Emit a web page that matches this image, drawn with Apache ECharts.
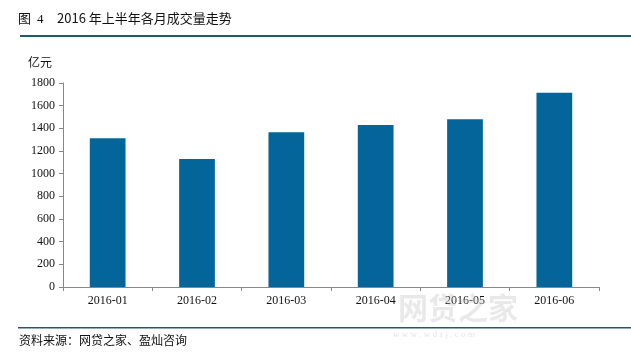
<!DOCTYPE html>
<html><head><meta charset="utf-8">
<script src="https://cdn.jsdelivr.net/npm/echarts@6/dist/echarts.min.js"></script>
<style>html,body{margin:0;padding:0;background:#fff}#c{width:631px;height:362px}</style>
</head><body><div id="c"></div>
<script>
var categories = ['2016-01','2016-02','2016-03','2016-04','2016-05','2016-06'];
var volumes = [1312, 1129, 1365, 1429, 1480, 1714];
var yTicks = [0,200,400,600,800,1000,1200,1400,1600,1800];

var chart = echarts.init(document.getElementById('c'));
var cjk = '"SimSun","Noto Sans CJK SC",sans-serif';
var serif = '"Liberation Serif","Times New Roman",serif';
chart.setOption({
  animation:false,
  grid:{left:63,right:32,top:83,bottom:75,containLabel:false},
  graphic:[
    {type:'text',left:18,top:12,style:{text:'图',font:'13px '+cjk,fill:'#111'}},
    {type:'text',left:37,top:13,style:{text:'4',font:'13px '+serif,fill:'#111'}},
    {type:'text',left:57,top:12,style:{text:'2016 年上半年各月成交量走势',font:'13px '+cjk,fill:'#111'}},
    {type:'rect',shape:{x:20,y:35,width:611,height:2},style:{fill:'#1e5c6b'}},
    {type:'text',left:28,top:56,style:{text:'亿元',font:'12px '+cjk,fill:'#111'}},
    {type:'rect',shape:{x:18,y:327,width:613,height:1.5},style:{fill:'#1e5c6b'}},
    {type:'text',left:19,top:334,style:{text:'资料来源：网贷之家、盈灿咨询',font:'12px '+cjk,fill:'#111'}},
    {type:'text',left:398,top:293,z:100,style:{text:'网贷之家',font:'bold 30px '+cjk,fill:'rgba(200,200,200,0.4)'}},
    {type:'text',left:393,top:330,z:100,style:{text:'w w w . w d z j . c o m',font:'9px '+serif,fill:'rgba(200,200,200,0.5)'}}
  ],
  xAxis:{type:'category',data:categories,
    axisLine:{lineStyle:{color:'#888',width:1}},
    axisTick:{show:true,alignWithLabel:false,length:4,lineStyle:{color:'#888'}},
    axisLabel:{color:'#111',fontFamily:serif,fontSize:12,margin:8}},
  yAxis:{type:'value',min:0,max:1800,interval:200,
    axisLine:{show:true,lineStyle:{color:'#888'}},
    axisTick:{show:true,inside:false,length:4,lineStyle:{color:'#888'}},
    splitLine:{show:false},
    axisLabel:{color:'#111',fontFamily:serif,fontSize:12,margin:8,
      formatter:function(v){return yTicks.indexOf(v)>=0?String(v):'';}}},
  series:[{type:'bar',data:volumes,barWidth:'40%',itemStyle:{color:'#03659A'}}]
});
</script></body></html>
